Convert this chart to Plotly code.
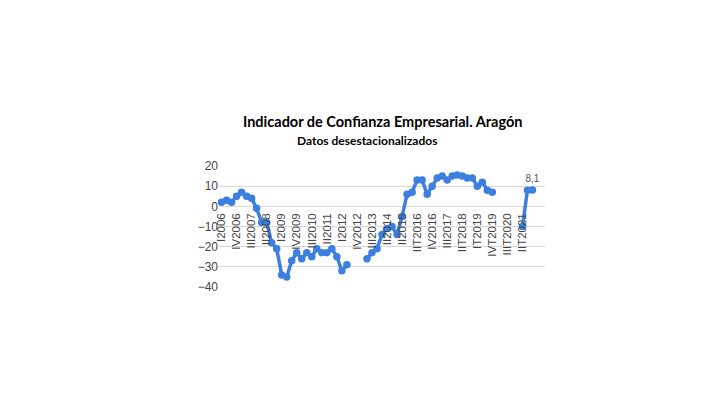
import plotly.graph_objects as go

# Quarterly periods, I 2006 .. III 2021 (63 quarters)
roman = ["I", "II", "III", "IV"]
periods = [f"{roman[q]}{2006 + y}" for y in range(16) for q in range(4)][:63]

values = [
    2, 3, 2, 5, 7, 5, 4, -1, -8, -8,
    -18, -21, -34, -35, -27, -23, -26, -23, -25, -21,
    -23, -23, -21, -25, -32, -29, None, None, None, -26,
    -23, -21, -14, -11, -10, -14, -5, 6, 7, 13,
    13, 6, 10, 14, 15, 13, 15, 15.5, 15, 14,
    14, 10, 12, 8, 7, None, None, None, None, None,
    -10, 8, 8.1,
]

tick_labels = [
    "I2006", "IV2006", "III2007", "II2008", "I2009", "IV2009", "III2010",
    "II2011", "I2012", "IV2012", "III2013", "II2014", "II2015", "IIT2016",
    "IV2016", "III2017", "IIT2018", "IT2019", "IVT2019", "IIIT2020", "IIT2021",
]
tick_positions = periods[::3]

point_labels = ["" for _ in values]
point_labels[-1] = "8,1"

y_min, y_max = -40, 20

fig = go.Figure()
fig.add_trace(go.Scatter(
    x=periods, y=values, mode="lines+markers+text",
    line=dict(color="#3d7fe0", width=3.5),
    marker=dict(color="#3d7fe0", size=7.5),
    text=point_labels, textposition="top center",
    textfont=dict(family="Arial", size=10, color="#555555"),
    connectgaps=False, showlegend=False, cliponaxis=False,
))

# x labels hang just below the zero line
zero_pos = (0 - y_min) / (y_max - y_min) - 0.03

fig.update_layout(
    width=720, height=405,
    margin=dict(l=211, r=183, t=158, b=126, autoexpand=False),
    paper_bgcolor="white", plot_bgcolor="white",
    xaxis=dict(
        type="category", categoryorder="array", categoryarray=periods,
        range=[-0.5, 64.5], automargin=False,
        tickmode="array", tickvals=tick_positions, ticktext=tick_labels,
        tickangle=-90, tickfont=dict(family="Arial", size=11.5, color="#444444"),
        showgrid=False, showline=False, zeroline=False, ticks="",
        anchor="free", position=zero_pos,
    ),
    yaxis=dict(
        range=[y_min, y_max], tickmode="linear", tick0=-40, dtick=10,
        automargin=False,
        tickfont=dict(family="Arial", size=12, color="#444444"),
        showgrid=True, gridcolor="#d9d9d9", gridwidth=1,
        zeroline=True, zerolinecolor="#d9d9d9", zerolinewidth=1,
        showline=False, ticks="",
    ),
    annotations=[
        dict(text="<b>Indicador de Confianza Empresarial. Aragón</b>",
             xref="paper", yref="paper", x=0.5, y=1.364,
             xanchor="center", yanchor="middle", showarrow=False,
             font=dict(family="Lato", size=14.5, color="#000000")),
        dict(text="<b>Datos desestacionalizados</b>",
             xref="paper", yref="paper", x=0.454, y=1.207,
             xanchor="center", yanchor="middle", showarrow=False,
             font=dict(family="Lato", size=12, color="#000000")),
    ],
)

fig.write_html("out.html")
